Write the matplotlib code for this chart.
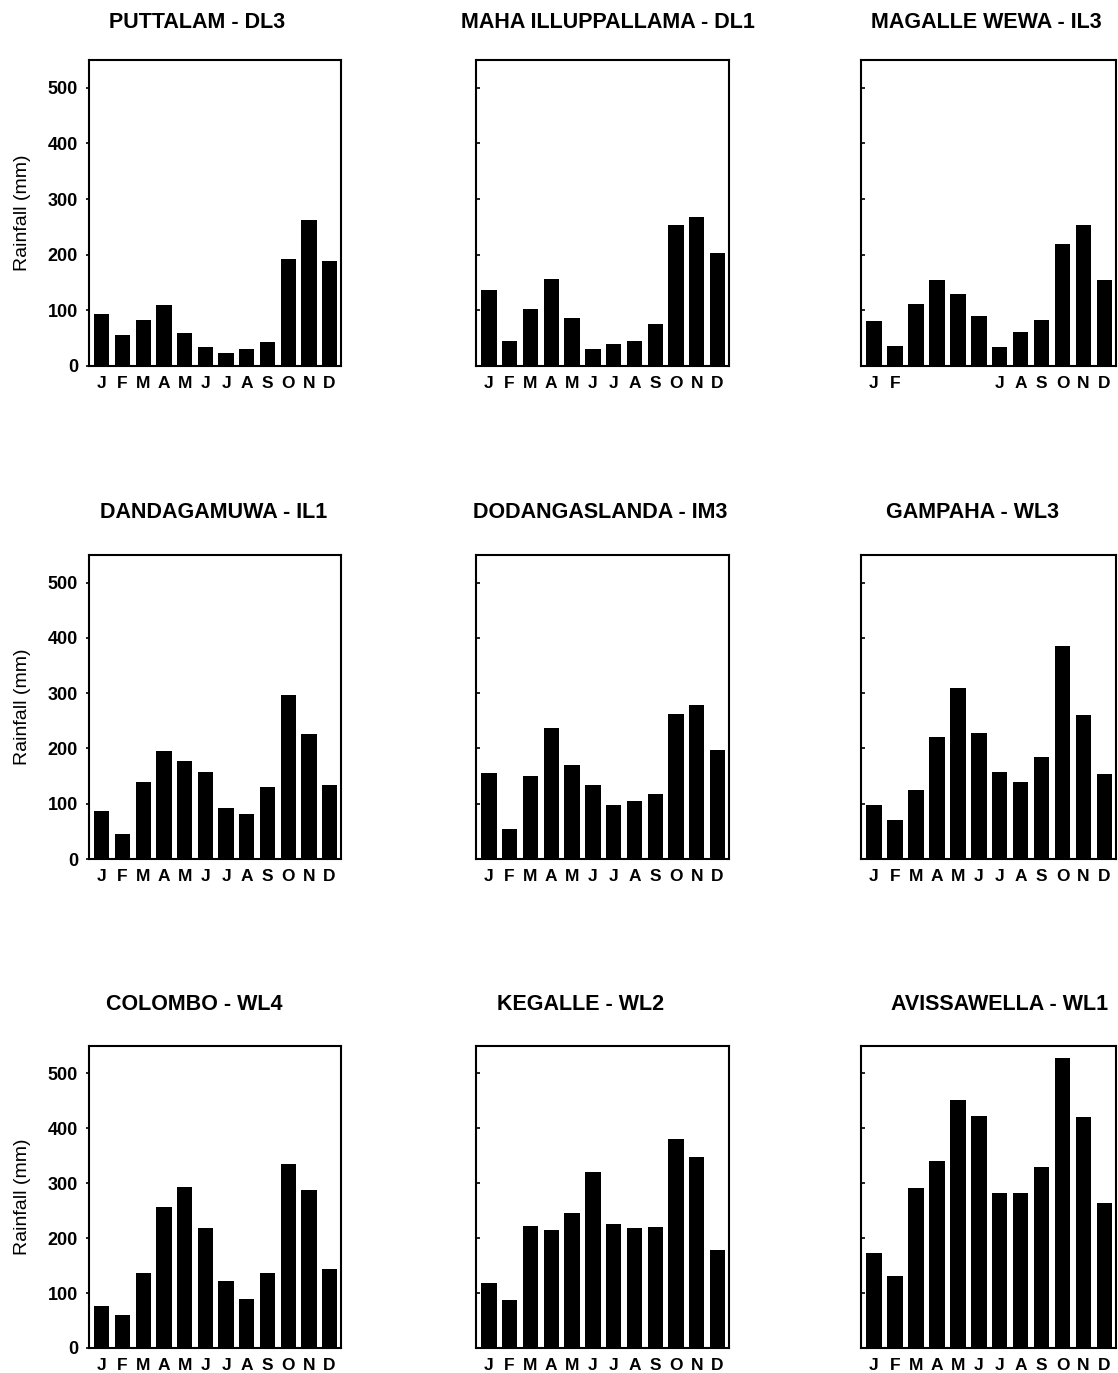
import matplotlib
matplotlib.use("Agg")
import matplotlib.pyplot as plt

months = ["J", "F", "M", "A", "M", "J", "J", "A", "S", "O", "N", "D"]
months_magalle = ["J", "F", "", "", "", "", "J", "A", "S", "O", "N", "D"]

titles = [
    "PUTTALAM - DL3", "MAHA ILLUPPALLAMA - DL1", "MAGALLE WEWA - IL3",
    "DANDAGAMUWA - IL1", "DODANGASLANDA - IM3", "GAMPAHA - WL3",
    "COLOMBO - WL4", "KEGALLE - WL2", "AVISSAWELLA - WL1",
]

puttalam = [94, 55, 83, 110, 60, 34, 23, 31, 43, 192, 262, 189]
maha_illuppallama = [136, 45, 102, 156, 86, 31, 39, 45, 76, 254, 268, 204]
magalle_wewa = [80, 36, 111, 154, 130, 89, 34, 61, 83, 219, 253, 154]
dandagamuwa = [86, 45, 140, 196, 178, 158, 92, 81, 130, 296, 227, 133]
dodangaslanda = [156, 54, 151, 237, 170, 133, 97, 105, 117, 263, 279, 197]
gampaha = [98, 71, 125, 220, 310, 228, 157, 139, 185, 385, 260, 154]
colombo = [77, 61, 136, 256, 293, 219, 122, 89, 137, 336, 288, 143]
kegalle = [118, 87, 223, 215, 246, 321, 226, 218, 220, 380, 348, 178]
avissawella = [173, 131, 291, 341, 452, 423, 283, 283, 329, 529, 420, 264]

series = [puttalam, maha_illuppallama, magalle_wewa,
          dandagamuwa, dodangaslanda, gampaha,
          colombo, kegalle, avissawella]
xlabels = [months, months, months_magalle,
           months, months, months,
           months, months, months]

yticks = [0, 100, 200, 300, 400, 500]

W, H = 1118, 1373
fig = plt.figure(figsize=(W / 100, H / 100), dpi=100)

col_x = [(89, 341), (476, 729), (861, 1116)]
row_y = [(60, 366), (555, 859), (1046, 1348)]
title_y = [22, 512, 1004]
title_x = [197, 608, 986, 214, 600, 973, 194, 581, 1000]

for i, (vals, lab, ttl) in enumerate(zip(series, xlabels, titles)):
    r, c = divmod(i, 3)
    x0, x1 = col_x[c]
    y0, y1 = row_y[r]
    ax = fig.add_axes([x0 / W, 1 - y1 / H, (x1 - x0) / W, (y1 - y0) / H])
    ax.bar(range(12), vals, width=0.74, color="black")
    ax.set_xlim(-0.62, 11.55)
    ax.set_ylim(0, 550)
    ax.set_yticks(yticks)
    ax.set_xticks(range(12))
    ax.set_xticklabels(lab, fontsize=12.5, fontweight="bold", family="Liberation Sans")
    ax.tick_params(axis="x", length=0, pad=7)
    if c == 0:
        ax.set_yticklabels([str(v) for v in yticks], fontsize=13,
                           fontweight="bold", family="Liberation Sans")
        ax.tick_params(axis="y", direction="out", length=2, width=1.2, pad=6)
        ax.set_ylabel("Rainfall (mm)", fontsize=14, family="Liberation Sans",
                      labelpad=12)
    else:
        ax.set_yticklabels([])
        ax.tick_params(axis="y", direction="in", length=3, width=1.2)
    for s in ax.spines.values():
        s.set_linewidth(1.5)
    fig.text(title_x[i] / W, 1 - title_y[r] / H, ttl, ha="center", va="center",
             fontsize=15.5, fontweight="bold", family="Liberation Sans")

fig.savefig("out.png", dpi=100)
